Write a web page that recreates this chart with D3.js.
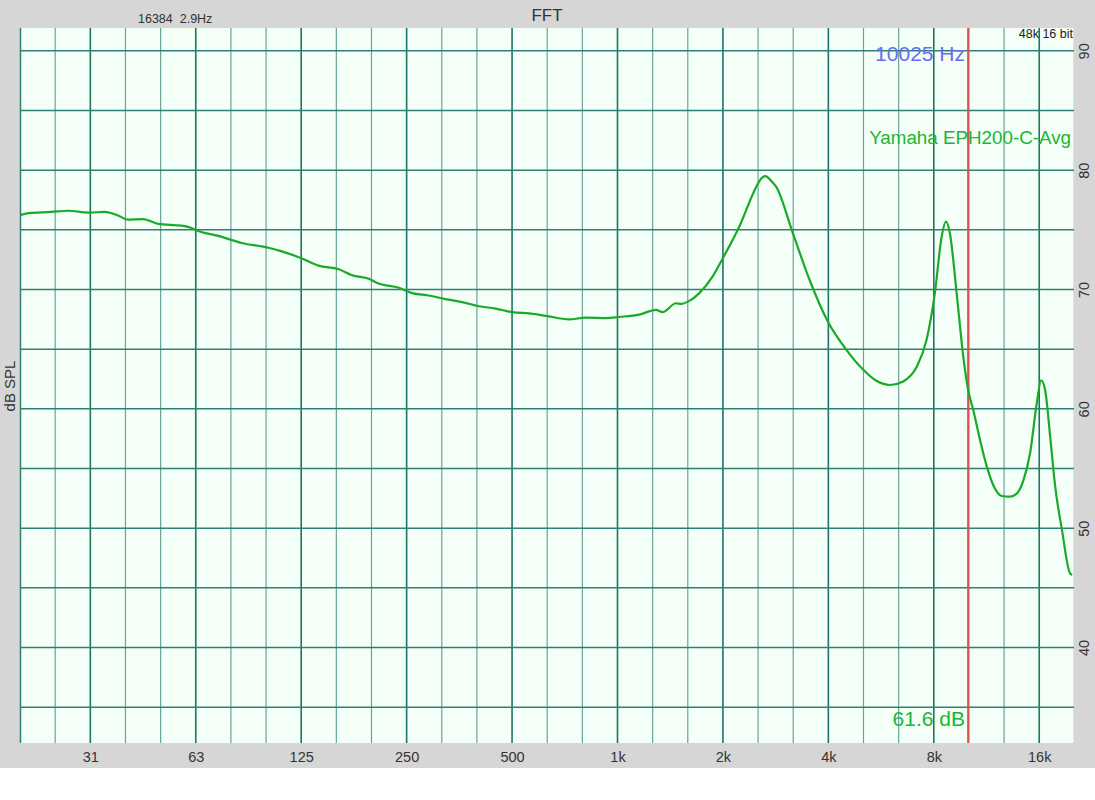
<!DOCTYPE html>
<html>
<head>
<meta charset="utf-8">
<script src="https://cdn.jsdelivr.net/npm/d3@7"></script>
<style>
  html, body { margin: 0; padding: 0; background: #ffffff; }
  svg { display: block; font-family: "Liberation Sans", Arial, Helvetica, sans-serif; }
</style>
</head>
<body>
<svg id="chart" width="1095" height="800"></svg>
<script>
// ---- data ----
const freqHz = [19.5, 20.8, 24.2, 27.0, 30.9, 34.3, 37.5, 40.0, 44.2, 48.8, 56.9, 60.8, 63.5, 72.4, 84.5, 100.8, 110, 125.6, 140, 160, 174.6, 195, 208, 237.5,
  259, 289, 323, 360, 402, 449, 501, 559, 624, 728, 812, 927, 1011, 1154, 1288, 1345, 1469, 1518, 1604, 1713, 1870, 1997, 2230, 2489, 2573, 2646, 2748, 2840,
  3169, 3536, 3989, 4504, 5024, 5488, 5990, 6540, 7143, 7630, 8057, 8421, 8664, 8895, 9297, 9709, 10025, 10370, 10840, 11330, 11830, 12510, 13210,
  13800, 14420, 15070, 15750, 16200, 16630, 17190, 17770, 18570, 19610, 19880];
const splDb = [76.2, 76.4, 76.5, 76.6, 76.45, 76.5, 76.2, 75.85, 75.9, 75.5, 75.35, 75.15, 74.9, 74.5, 73.9, 73.5, 73.2, 72.6, 72.0, 71.7, 71.2, 70.9, 70.5, 70.15,
  69.7, 69.5, 69.2, 68.95, 68.6, 68.4, 68.1, 68.0, 67.8, 67.5, 67.65, 67.6, 67.7, 67.9, 68.3, 68.1, 68.85, 68.8, 69.05, 69.7, 71.1, 72.6, 75.3, 78.6, 79.3, 79.5, 79.1, 78.6,
  74.7, 70.8, 67.3, 64.95, 63.3, 62.35, 62.0, 62.3, 63.5, 65.8, 69.7, 74.4, 75.7, 74.7, 69.7, 64.4, 61.6, 59.9, 57.4, 55.2, 53.6, 52.7, 52.65,
  52.9, 54.0, 56.3, 60.5, 62.4, 61.6, 57.7, 53.5, 49.9, 46.2, 46.1];

const octaveTicks = [31.25, 62.5, 125, 250, 500, 1000, 2000, 4000, 8000, 16000];
const octaveLabels = ["31", "63", "125", "250", "500", "1k", "2k", "4k", "8k", "16k"];
const dbTicks = [40, 50, 60, 70, 80, 90];
const dbGrid = [35, 40, 45, 50, 55, 60, 65, 70, 75, 80, 85, 90];
const cursorHz = 10025;
const cursorDb = 61.6;
const seriesName = "Yamaha EPH200-C-Avg";

// ---- layout ----
const svg = d3.select("#chart");
const L = 20, R = 1074, T = 28, B = 743;

svg.append("rect").attr("x", 0).attr("y", 0).attr("width", 1095).attr("height", 768).attr("fill", "#d6d6d6");
svg.append("rect").attr("x", L).attr("y", T).attr("width", R - L).attr("height", B - T).attr("fill", "#f3fff7");

const x = d3.scaleLog().domain([19.68, 20110]).range([L, R]);
const y = d3.scaleLinear().domain([32, 92]).range([B, 27]);

const defs = svg.append("defs");
defs.append("clipPath").attr("id", "clip").append("rect")
  .attr("x", L).attr("y", T).attr("width", R - L).attr("height", B - T);

const g = svg.append("g").attr("clip-path", "url(#clip)");

// third-octave vertical grid
const thirds = d3.range(-17, 14).map(k => 1000 * Math.pow(2, k / 3));
g.selectAll("line.vminor").data(thirds.filter((d, i) => ((i - 17) % 3 + 3) % 3 !== 0)).enter()
  .append("line").attr("class", "vminor")
  .attr("x1", d => x(d)).attr("x2", d => x(d)).attr("y1", T).attr("y2", B)
  .attr("stroke", "#6aa39b").attr("stroke-width", 1.2);
g.selectAll("line.vmajor").data(octaveTicks).enter()
  .append("line").attr("class", "vmajor")
  .attr("x1", d => x(d)).attr("x2", d => x(d)).attr("y1", T).attr("y2", B)
  .attr("stroke", "#1f7468").attr("stroke-width", 1.6);

// horizontal grid
g.selectAll("line.h").data(dbGrid).enter()
  .append("line").attr("class", "h")
  .attr("x1", L).attr("x2", R).attr("y1", d => y(d)).attr("y2", d => y(d))
  .attr("stroke", "#2e8074").attr("stroke-width", 1.5);

// left border
svg.append("line").attr("x1", L + 0.5).attr("x2", L + 0.5).attr("y1", T).attr("y2", B)
  .attr("stroke", "#2e8074").attr("stroke-width", 1.5);

// cursor line
g.append("line").attr("x1", x(cursorHz)).attr("x2", x(cursorHz)).attr("y1", T).attr("y2", B)
  .attr("stroke", "#e0524f").attr("stroke-width", 2);

// curve
const line = d3.line().x((d, i) => x(freqHz[i])).y(d => y(d)).curve(d3.curveMonotoneX);
g.append("path").datum(splDb).attr("d", line)
  .attr("fill", "none").attr("stroke", "#1aaa2a").attr("stroke-width", 2.2).attr("stroke-linejoin", "round");

// axes (labels only)
const xAxis = d3.axisBottom(x).tickValues(octaveTicks).tickFormat((d, i) => octaveLabels[i]).tickSize(0).tickPadding(0);
const xg = svg.append("g").attr("transform", `translate(0,${B})`).call(xAxis);
xg.select(".domain").remove();
xg.selectAll("text").attr("dy", null).attr("y", 19).attr("font-size", "14.5px").attr("fill", "#333")
  .attr("font-family", "Liberation Sans, Arial, sans-serif");

const yAxis = d3.axisRight(y).tickValues(dbTicks).tickSize(0).tickPadding(0);
const yg = svg.append("g").attr("transform", `translate(${R},0)`).call(yAxis);
yg.select(".domain").remove();
yg.selectAll("text")
  .attr("x", null).attr("dy", null)
  .attr("transform", "translate(15,0) rotate(-90)")
  .attr("text-anchor", "middle").attr("y", 0)
  .attr("font-size", "14.5px").attr("fill", "#333")
  .attr("font-family", "Liberation Sans, Arial, sans-serif");

// texts
svg.append("text").attr("x", 547).attr("y", 21).attr("text-anchor", "middle")
  .attr("font-size", "17px").attr("fill", "#333").text("FFT");
svg.append("text").attr("x", 138).attr("y", 23).attr("font-size", "12.5px").attr("fill", "#333")
  .attr("xml:space", "preserve").style("white-space", "pre").text("16384  2.9Hz");
svg.append("text").attr("x", 1073).attr("y", 38).attr("text-anchor", "end").attr("font-size", "12.5px").attr("fill", "#222")
  .style("white-space", "pre").text("48k 16 bit");
svg.append("text").attr("x", 965).attr("y", 61).attr("text-anchor", "end").attr("font-size", "21px").attr("fill", "#6a6af5")
  .text(`${cursorHz} Hz`);
svg.append("text").attr("x", 1071).attr("y", 144).attr("text-anchor", "end").attr("font-size", "18.8px").attr("fill", "#22b534")
  .text(seriesName);
svg.append("text").attr("x", 965).attr("y", 726).attr("text-anchor", "end").attr("font-size", "21px").attr("fill", "#22b534")
  .text(`${cursorDb} dB`);
svg.append("text").attr("transform", "translate(15,386) rotate(-90)").attr("text-anchor", "middle")
  .attr("font-size", "15px").attr("fill", "#333").text("dB SPL");
</script>
</body>
</html>
